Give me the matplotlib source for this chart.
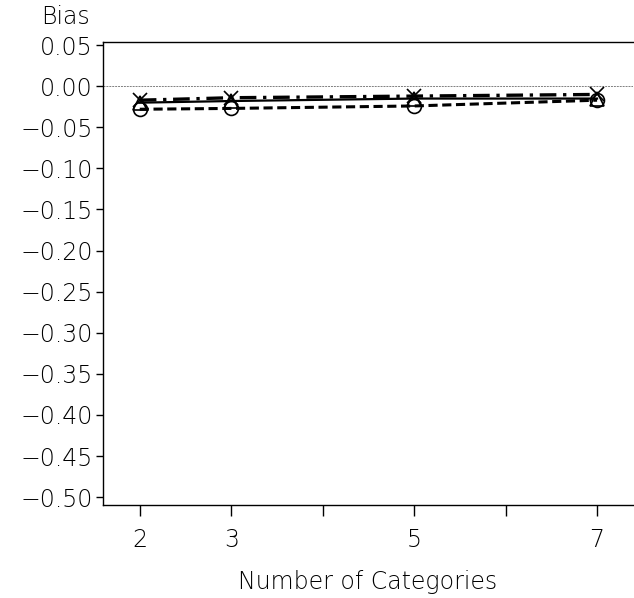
import matplotlib
matplotlib.use('Agg')
import matplotlib.pyplot as plt

# data
categories = [2, 3, 5, 7]
bias_triangle = [-0.020, -0.018, -0.015, -0.015]   # solid line
bias_circle = [-0.028, -0.027, -0.024, -0.017]     # dashed line
bias_cross = [-0.017, -0.014, -0.012, -0.010]      # dash-dot line

x_ticks = [2, 3, 4, 5, 6, 7]
x_ticklabels = ['2', '3', '', '5', '', '7']
y_ticks = [0.05, 0.00, -0.05, -0.10, -0.15, -0.20, -0.25,
           -0.30, -0.35, -0.40, -0.45, -0.50]

plt.rcParams['font.family'] = 'DejaVu Sans'
plt.rcParams['font.weight'] = 'light'
plt.rcParams['axes.labelweight'] = 'light'
plt.rcParams['text.color'] = 'black'

fig = plt.figure(figsize=(6.34, 5.98), dpi=100)
ax = fig.add_axes([0.162, 0.155, 0.836, 0.775])

ax.axhline(0, color='gray', linestyle=(0, (2, 1)), linewidth=0.7, zorder=1)

ax.plot(categories, bias_triangle, color='black', linestyle='-', linewidth=1.6,
        marker='^', markersize=10, markerfacecolor='none', markeredgewidth=1.2)
ax.plot(categories, bias_circle, color='black', linestyle=(0, (3, 1.5)), linewidth=2.2,
        marker='o', markersize=10, markerfacecolor='none', markeredgewidth=1.2)
ax.plot(categories, bias_cross, color='black', linestyle=(0, (5, 2, 1, 2)), linewidth=2.4,
        marker='x', markersize=10, markeredgewidth=1.2)

ax.set_xlim(1.595, 7.39)
ax.set_ylim(-0.51, 0.054)
ax.set_xticks(x_ticks)
ax.set_xticklabels(x_ticklabels)
ax.set_yticks(y_ticks)
ax.set_yticklabels([f'{v:.2f}'.replace('-', '\u2212') for v in y_ticks])

ax.spines['right'].set_visible(False)
for s in ['left', 'bottom', 'top']:
    ax.spines[s].set_linewidth(1.0)
ax.tick_params(axis='both', direction='out', labelsize=17, width=1.0, labelcolor='black')
ax.tick_params(axis='x', length=8, pad=8)
ax.tick_params(axis='y', length=5, pad=2)

ax.set_xlabel('Number of Categories', fontsize=17, fontweight='light', labelpad=13)
fig.text(66 / 634, 1 - 17 / 598, 'Bias', fontsize=17, fontweight='light',
         ha='center', va='center')

fig.savefig('out.png', dpi=100)
